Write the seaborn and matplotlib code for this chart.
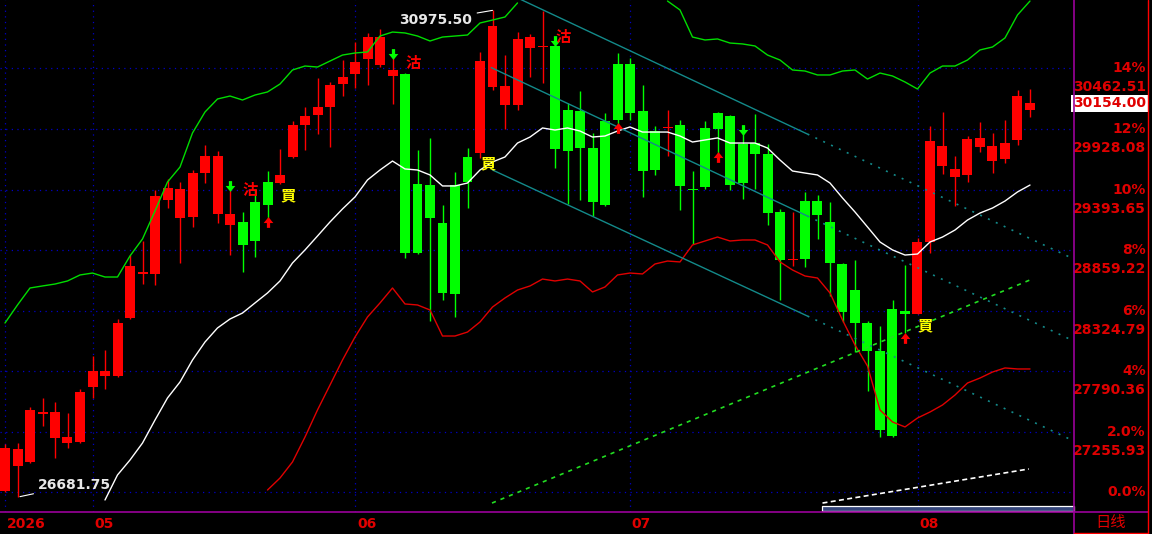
import matplotlib
matplotlib.use("Agg")
import matplotlib.pyplot as plt
import matplotlib.transforms as mtransforms
from matplotlib.lines import Line2D
from matplotlib.patches import Rectangle
import numpy as np
import pandas as pd
import seaborn as sns

# daily candles (one row per trading day, left to right)
opens = [26732, 26952, 26988, 27412, 27200, 27155, 27164, 27650, 27747, 27747,
         28259, 28650, 28648, 29301, 29142, 29151, 29539, 29177, 29080, 29107,
         29283, 29460, 29451, 29681, 29963, 30052, 30122, 30325, 30414, 30546,
         30493, 30396, 30414, 29442, 29433, 29098, 29433, 29681, 29716, 30299,
         30140, 30140, 30643, 30648, 30661, 30096, 30087, 29760, 29999, 30502,
         30502, 30087, 29910, 29934, 29963, 29393, 29937, 30069, 30043, 29796,
         29804, 29707, 29195, 28768, 29292, 29292, 29107, 28736, 28506, 28215,
         27968, 28339, 28321, 28294, 28930, 29601, 29504, 29522, 29769, 29645,
         29663, 29831, 30100]
highs = [27146, 27155, 27473, 27553, 27517, 27420, 27632, 27924, 27977, 28250,
         28815, 28939, 29389, 29486, 29460, 29566, 29787, 29734, 29389, 29195,
         29398, 29557, 29751, 29999, 30122, 30378, 30343, 30537, 30696, 30776,
         30811, 30564, 30422, 29743, 29849, 29257, 29548, 29760, 30608, 30975.5,
         30581, 30784, 30767, 30970, 30680, 30158, 30264, 29893, 30069, 30599,
         30555, 30316, 29954, 30096, 30007, 29557, 29999, 30078, 30050, 29954,
         30060, 29796, 29222, 29195, 29372, 29345, 29283, 28745, 28771, 28233,
         28188, 28418, 28727, 28966, 29954, 30078, 29690, 29866, 29990, 29893,
         30007, 30272, 30281]
lows = [26725, 26681.75, 26980, 27305, 27023, 27111, 27158, 27553, 27632, 27738,
        28250, 28559, 28550, 29230, 28745, 29063, 29451, 29098, 28815, 28665,
        28798, 29124, 29445, 29675, 29743, 29884, 29769, 30219, 30290, 30316,
        30475, 30149, 28789, 28824, 28233, 28418, 28268, 29230, 29672, 30272,
        29928, 30096, 30387, 30334, 29584, 29266, 29301, 29160, 29250, 29946,
        30007, 29328, 29522, 29690, 29213, 28913, 29398, 29716, 29389, 29310,
        29398, 29080, 28418, 28718, 28709, 28957, 28453, 28224, 27959, 27615,
        27208, 27208, 28127, 28290, 28833, 29531, 29248, 29460, 29725, 29539,
        29628, 29787, 30034]
closes = [27111, 27102, 27447, 27425, 27429, 27208, 27606, 27791, 27791, 28215,
          28718, 28660, 29336, 29407, 29398, 29539, 29690, 29690, 29177, 28904,
          28939, 29257, 29522, 29963, 30043, 30122, 30316, 30387, 30520, 30740,
          30740, 30449, 28833, 28833, 29142, 28480, 28471, 29460, 30528, 30837,
          30308, 30723, 30740, 30656, 29751, 29734, 29760, 29283, 29257, 30007,
          30069, 29557, 29566, 29940, 29425, 29385, 29416, 29928, 29433, 29451,
          29707, 29186, 28771, 28774, 28780, 29169, 28745, 28312, 28215, 27968,
          27270, 27217, 28294, 28930, 29822, 29778, 29575, 29840, 29849, 29778,
          29804, 30219, 30154]

nan = np.nan
# bollinger bands (nan = not visible)
upper_band = [28215, 28374, 28524, 28542, 28559, 28586, 28639, 28656, 28621, 28621,
              28807, 28957, 29204, 29460, 29592, 29893, 30078, 30193, 30219, 30184,
              30228, 30255, 30325, 30449, 30484, 30475, 30528, 30581, 30599, 30608,
              30749, 30784, 30776, 30749, 30705, 30740, 30749, 30758, 30864, 30890,
              30917, 31041, nan, nan, nan, nan, nan, nan, nan, nan,
              nan, nan, nan, 31058, 30979, 30740, 30714, 30723, 30687, 30679,
              30661, 30581, 30537, 30449, 30440, 30405, 30405, 30440, 30449, 30369,
              30422, 30396, 30343, 30281, 30422, 30484, 30484, 30537, 30626, 30652,
              30732, 30935, 31058]
mid_band = [nan, nan, nan, nan, nan, nan, nan, nan, 26652, 26873,
            27005, 27155, 27358, 27553, 27694, 27888, 28047, 28171, 28250, 28303,
            28392, 28480, 28586, 28745, 28860, 28983, 29107, 29222, 29328, 29478,
            29566, 29645, 29575, 29566, 29522, 29425, 29425, 29451, 29566, 29637,
            29681, 29804, 29857, 29937, 29919, 29937, 29910, 29857, 29866, 29910,
            29946, 29901, 29901, 29901, 29866, 29813, 29831, 29849, 29804, 29804,
            29804, 29760, 29654, 29557, 29539, 29522, 29451, 29319, 29195, 29063,
            28930, 28860, 28815, 28824, 28930, 28974, 29036, 29124, 29186, 29230,
            29292, 29372, 29433]
lower_band = [nan, nan, nan, nan, nan, nan, nan, nan, nan, nan,
              nan, nan, nan, nan, nan, nan, nan, nan, nan, nan,
              nan, 26740, 26846, 26988, 27208, 27447, 27667, 27888, 28091, 28268,
              28392, 28524, 28383, 28374, 28330, 28100, 28100, 28135, 28224, 28356,
              28436, 28506, 28542, 28603, 28586, 28603, 28586, 28489, 28533, 28639,
              28656, 28648, 28736, 28762, 28754, 28904, 28939, 28974, 28939, 28948,
              28948, 28904, 28754, 28683, 28630, 28612, 28480, 28241, 28021, 27835,
              27447, 27341, 27297, 27376, 27429, 27491, 27579, 27685, 27729, 27782,
              27818, 27809, 27809]

# descending channel (solid part, then dotted extension)
channel_x = [[40.5, 64.2, 85.5], [38.9, 64.2, 85.5], [39.0, 64.2, 85.5]]
channel_y = [[31111, 29883, 28780], [30470, 29159, 28056], [29566, 28276, 27173]]
support_x = [38.96, 82.0]
support_y = [26625, 28595]
dash_x = [65.4, 81.9]
dash_y = [26625, 26926]

# trade signals
sell_text_x = [19.6, 32.64, 44.64]
sell_text_y = [29389, 30511, 30740]
buy_text_x = [22.64, 38.64, 73.6]
buy_text_y = [29345, 29628, 28197]
down_arrow_x = [18, 31, 44, 59]
down_arrow_y = [29425, 30590, 30705, 29919]
up_arrow_x = [21, 49, 57, 72]
up_arrow_y = [29107, 29937, 29681, 28082]

# right axis
pct_labels = ["14%", "12%", "10%", "8%", "6%", "4%", "2.0%", "0.0%"]
level_prices = [30462.51, 29928.08, 29393.65, 28859.22, 28324.79, 27790.36, 27255.93, 26721.50]
price_labels = ["30462.51", "29928.08", "29393.65", "28859.22", "28324.79", "27790.36", "27255.93", ""]
last_price = 30154.00

month_starts = [0, 7, 28, 50, 73]
month_labels = ["2026", "05", "06", "07", "08"]
week_ticks = [3, 13, 18, 23, 33, 38, 43, 48, 53, 58, 63, 68, 78, 83]

RED = "#ff0000"
GREEN = "#00ff00"
LBL = "#e00000"
PURPLE = "#9a009a"
GRID = "#0000c8"

sns.set_theme(style="dark", rc={"axes.facecolor": "black", "figure.facecolor": "black"})
plt.rcParams["font.family"] = ["DejaVu Sans", "Noto Sans CJK TC"]

fig = plt.figure(figsize=(11.52, 5.34), dpi=100, facecolor="black")
ax = fig.add_axes([0, 22 / 534, 1074 / 1152, 512 / 534])
ax.set_facecolor("black")

df = pd.DataFrame({"open": opens, "high": highs, "low": lows, "close": closes})
df["idx"] = np.arange(len(df))
up = df["close"] >= df["open"]
cols = np.where(up, RED, GREEN)

# wicks + bodies
ax.vlines(df["idx"], df["low"], df["high"], colors=cols, lw=1.0, zorder=2)
body_lo = np.minimum(df["open"], df["close"])
body_h = np.maximum((df["close"] - df["open"]).abs(), 12)
ax.bar(df["idx"], body_h, bottom=body_lo, width=0.8, color=cols, linewidth=0, zorder=3)

# bands
bands = pd.DataFrame({"idx": df["idx"], "upper": upper_band, "mid": mid_band, "lower": lower_band})
for name, c in [("upper", "#00dd00"), ("mid", "#ffffff"), ("lower", "#e00000")]:
    ok = bands[name].notna()
    seg = (~ok).cumsum()
    for _, part in bands[ok].groupby(seg[ok]):
        sns.lineplot(data=part, x="idx", y=name, ax=ax, color=c, lw=1.0,
                     estimator=None, sort=False, zorder=4, legend=False)

# channel
for cx, cy in zip(channel_x, channel_y):
    ax.plot(cx[:2], cy[:2], color="#138a8a", lw=1.0, zorder=4)
    ax.plot(cx[1:], cy[1:], color="#138a8a", lw=1.2, ls=(0, (1.2, 4)), zorder=4)
ax.plot(support_x, support_y, color="#22dd22", lw=1.2, ls=(0, (2.5, 3)), zorder=4)
ax.plot(dash_x, dash_y, color="white", lw=1.2, ls=(0, (3, 2)), zorder=4)

# signals
down_marker = [(0, -1), (0.9, 0.1), (0.3, 0.1), (0.3, 1), (-0.3, 1), (-0.3, 0.1), (-0.9, 0.1), (0, -1)]
up_marker = [(x, -y) for x, y in down_marker]
ax.scatter(down_arrow_x, down_arrow_y, marker=down_marker, s=60, color=GREEN, linewidths=0, zorder=6)
ax.scatter(up_arrow_x, up_arrow_y, marker=up_marker, s=60, color=RED, linewidths=0, zorder=6)
for x, y in zip(sell_text_x, sell_text_y):
    ax.text(x, y, "沽", color=RED, fontsize=11, fontweight="bold", ha="center", va="center",
            family=["Noto Sans CJK TC", "DejaVu Sans"], zorder=6)
for x, y in zip(buy_text_x, buy_text_y):
    ax.text(x, y, "買", color="#ffff00", fontsize=11, fontweight="bold", ha="center", va="center",
            family=["Noto Sans CJK TC", "DejaVu Sans"], zorder=6)

# high / low labels
ax.annotate("30975.50", xy=(39, 30975.5), xytext=(37.4, 30890), ha="right", va="center",
            color="#e8e8e8", fontsize=10, fontweight="bold",
            arrowprops=dict(arrowstyle="-", color="white", lw=0.8, shrinkA=1, shrinkB=0), zorder=7)
ax.annotate("26681.75", xy=(1.2, 26681.75), xytext=(2.65, 26784), ha="left", va="center",
            color="#e8e8e8", fontsize=10, fontweight="bold",
            arrowprops=dict(arrowstyle="-", color="white", lw=0.8, shrinkA=1, shrinkB=0), zorder=7)

ax.set_xlim(-0.4, 85.52)
ax.set_ylim(26546, 31067)
ax.set_yticks(level_prices)
ax.set_xticks(month_starts)
ax.set_xticks(week_ticks, minor=True)
ax.set_yticklabels([])
ax.set_xticklabels([])
ax.grid(True, which="major", color=GRID, lw=0.9, ls=(0, (1, 3.5)))
ax.tick_params(axis="y", length=0)
ax.tick_params(axis="x", which="major", length=15.8, width=1, color=PURPLE, direction="out")
ax.tick_params(axis="x", which="minor", length=2.5, width=1, color=PURPLE, direction="out")
for s in ax.spines.values():
    s.set_visible(False)
ax.set_xlabel("")
ax.set_ylabel("")

# month labels
btrans = mtransforms.blended_transform_factory(ax.transData, ax.transAxes)
for m, lab in zip(month_starts, month_labels):
    ax.text(m + 0.15, -12 / 512, lab, transform=btrans, color=LBL, fontsize=10,
            fontweight="bold", ha="left", va="center", clip_on=False)
fig.text(1111 / 1152, 11 / 534, "日线", color=LBL, fontsize=11, ha="center", va="center",
         family=["Noto Sans CJK SC", "DejaVu Sans"])

# right price / percent scale
rx = 1146 / 1152
for pl, lv, pr in zip(pct_labels, level_prices, price_labels):
    ax.annotate(pl, xy=(rx, lv), xycoords=("figure fraction", "data"), ha="right", va="center",
                color=LBL, fontsize=10, fontweight="bold", annotation_clip=False)
    if pr:
        ax.annotate(pr, xy=(rx, lv), xycoords=("figure fraction", "data"), xytext=(0, -13.7),
                    textcoords="offset points", ha="right", va="center",
                    color=LBL, fontsize=10, fontweight="bold", annotation_clip=False)
ax.annotate(f"{last_price:.2f}", xy=(rx, last_price), xycoords=("figure fraction", "data"),
            ha="right", va="center", color=LBL, fontsize=10, fontweight="bold",
            annotation_clip=False, zorder=8,
            bbox=dict(boxstyle="square,pad=0.12", fc="white", ec="none"))

# frame lines and scroll box
fig.add_artist(Line2D([1074 / 1152] * 2, [0, 1], color=PURPLE, lw=1.2, transform=fig.transFigure))
fig.add_artist(Line2D([0, 1148 / 1152], [22 / 534] * 2, color=PURPLE, lw=1.2, transform=fig.transFigure))
fig.add_artist(Line2D([1148 / 1152] * 2, [0, 1], color=RED, lw=1.0, transform=fig.transFigure))
fig.add_artist(Line2D([1074 / 1152, 1148 / 1152], [1 / 534] * 2, color=RED, lw=1.0, transform=fig.transFigure))
ax.add_patch(Rectangle((822 / 1074, 1.5 / 512), 252 / 1074, 4.5 / 512, transform=ax.transAxes,
                       fc="#34457a", ec="white", lw=0.9, zorder=9, clip_on=False))

fig.savefig("out.png", dpi=100, facecolor="black")
